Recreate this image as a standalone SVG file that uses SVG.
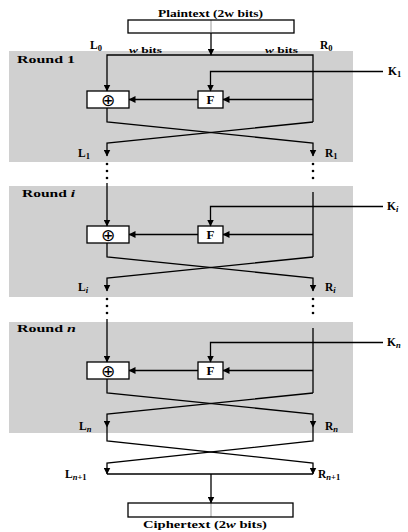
<svg xmlns="http://www.w3.org/2000/svg" width="408" height="532" viewBox="0 0 408 532">
<defs>
<style>
.ln{stroke:#000;stroke-width:1.3;fill:none}
.ar{marker-end:url(#ah)}
.dt{stroke:#000;stroke-width:0.8;stroke-dasharray:1 1;fill:none}
.bx{fill:#fff;stroke:#000;stroke-width:1.3}
.rd{fill:#d0d0d0}
.t{font-family:"Liberation Serif","Times New Roman",serif;font-weight:bold;fill:#000}
.s{font-size:8.5px}
.it{font-style:italic}
.op{font-family:"DejaVu Sans",sans-serif;font-size:17px;fill:#000}
</style>
<marker id="ah" markerUnits="userSpaceOnUse" viewBox="0 0 7 7" markerWidth="7" markerHeight="7" refX="6.5" refY="3.5" orient="auto">
<path d="M0,0 L7,3.5 L0,7 Z" fill="#000"/>
</marker>
</defs>
<rect class="rd" x="9" y="51" width="344" height="111"/>
<rect class="rd" x="9" y="186" width="344" height="111"/>
<rect class="rd" x="9" y="322" width="344" height="111"/>
<g id="plaintext">
<rect class="bx" x="128" y="20" width="166" height="13"/>
<line class="dt" x1="211" y1="20.5" x2="211" y2="32.5"/>
<text class="t" x="158" y="17" font-size="9.5" textLength="105" lengthAdjust="spacingAndGlyphs">Plaintext (2w bits)</text>
</g>
<g id="ciphertext">
<rect class="bx" x="128" y="503" width="165" height="14"/>
<line class="dt" x1="211" y1="503.5" x2="211" y2="516.5"/>
<text class="t" x="143" y="528" font-size="10.5" textLength="124" lengthAdjust="spacingAndGlyphs">Ciphertext (2<tspan class="it">w</tspan> bits)</text>
</g>
<g id="round1">
<text class="t" x="17" y="63" font-size="10.5" textLength="58" lengthAdjust="spacingAndGlyphs">Round 1</text>
<g id="xor1"><rect class="bx" x="87" y="91" width="42" height="17"/><text class="op" x="108" y="105.5" text-anchor="middle">⊕</text></g>
<g id="f1"><rect class="bx" x="198" y="91" width="25" height="17"/><text class="t" x="210.5" y="104" font-size="13" text-anchor="middle">F</text></g>
</g>
<g id="roundi">
<text class="t" x="22" y="197" font-size="10.5" textLength="53" lengthAdjust="spacingAndGlyphs">Round <tspan class="it">i</tspan></text>
<g id="xori"><rect class="bx" x="87" y="226" width="42" height="17"/><text class="op" x="108" y="240.5" text-anchor="middle">⊕</text></g>
<g id="fi"><rect class="bx" x="198" y="226" width="25" height="17"/><text class="t" x="210.5" y="239" font-size="13" text-anchor="middle">F</text></g>
</g>
<g id="roundn">
<text class="t" x="17" y="332" font-size="10.5" textLength="59" lengthAdjust="spacingAndGlyphs">Round <tspan class="it">n</tspan></text>
<g id="xorn"><rect class="bx" x="87" y="362" width="42" height="17"/><text class="op" x="108" y="376.5" text-anchor="middle">⊕</text></g>
<g id="fn"><rect class="bx" x="198" y="362" width="25" height="17"/><text class="t" x="210.5" y="375" font-size="13" text-anchor="middle">F</text></g>
</g>
<g id="labels">
<text class="t" x="90" y="49" font-size="11.5">L<tspan class="s" dy="2">0</tspan></text>
<text class="t" x="320" y="49" font-size="11.5">R<tspan class="s" dy="2">0</tspan></text>
<text class="t" x="129" y="53" font-size="8" textLength="33" lengthAdjust="spacingAndGlyphs"><tspan class="it">w</tspan> bits</text>
<text class="t" x="265" y="53" font-size="8" textLength="33" lengthAdjust="spacingAndGlyphs"><tspan class="it">w</tspan> bits</text>
<text class="t" x="388" y="75" font-size="11.5">K<tspan class="s" dy="2">1</tspan></text>
<text class="t" x="387" y="210" font-size="11.5">K<tspan class="s it" dy="2">i</tspan></text>
<text class="t" x="387" y="346" font-size="11.5">K<tspan class="s it" dy="2">n</tspan></text>
<text class="t" x="78" y="157" font-size="11.5">L<tspan class="s" dy="2">1</tspan></text>
<text class="t" x="325" y="157" font-size="11.5">R<tspan class="s" dy="2">1</tspan></text>
<text class="t" x="78" y="291" font-size="11.5">L<tspan class="s it" dy="2">i</tspan></text>
<text class="t" x="325" y="291" font-size="11.5">R<tspan class="s it" dy="2">i</tspan></text>
<text class="t" x="79" y="430" font-size="11.5">L<tspan class="s it" dy="2">n</tspan></text>
<text class="t" x="325" y="430" font-size="11.5">R<tspan class="s it" dy="2">n</tspan></text>
<text class="t" x="65" y="478" font-size="11.5">L<tspan class="s" dy="2"><tspan class="it">n</tspan>+1</tspan></text>
<text class="t" x="318" y="478" font-size="11.5">R<tspan class="s" dy="2"><tspan class="it">n</tspan>+1</tspan></text>
</g>
<g id="connectors">
<line class="ln ar" x1="211" y1="33" x2="211" y2="55"/>
<path class="ln ar" d="M313,122 V55 H107 V91"/>
<path class="ln ar" d="M383,71.5 H210.5 V91"/>
<line class="ln ar" x1="313" y1="99.5" x2="223" y2="99.5"/>
<line class="ln ar" x1="198" y1="99.5" x2="129" y2="99.5"/>
<path class="ln ar" d="M107,108 V122 L313,143 V156"/>
<path class="ln ar" d="M313,122 L107,143 V156"/>
<path class="ln ar" d="M107,183 V226"/>
<path class="ln" d="M313,192 V257"/>
<path class="ln ar" d="M383,206.5 H210.5 V226"/>
<line class="ln ar" x1="313" y1="234.5" x2="223" y2="234.5"/>
<line class="ln ar" x1="198" y1="234.5" x2="129" y2="234.5"/>
<path class="ln ar" d="M107,243 V257 L313,278 V291"/>
<path class="ln ar" d="M313,257 L107,278 V291"/>
<path class="ln ar" d="M107,319 V362"/>
<path class="ln" d="M313,328 V393"/>
<path class="ln ar" d="M383,342.5 H210.5 V362"/>
<line class="ln ar" x1="313" y1="370.5" x2="223" y2="370.5"/>
<line class="ln ar" x1="198" y1="370.5" x2="129" y2="370.5"/>
<path class="ln ar" d="M107,379 V393 L313,414 V427"/>
<path class="ln ar" d="M313,393 L107,414 V427"/>
<path class="ln ar" d="M107,427 V441 L313,463 V474"/>
<path class="ln ar" d="M313,427 V441 L107,463 V474"/>
<line class="ln" x1="107" y1="474" x2="313" y2="474"/>
<line class="ln ar" x1="211" y1="474" x2="211" y2="503"/>
<g fill="#000">
<circle cx="107" cy="164" r="1.3"/><circle cx="107" cy="171" r="1.3"/><circle cx="107" cy="178" r="1.3"/>
<circle cx="313" cy="164" r="1.3"/><circle cx="313" cy="171" r="1.3"/><circle cx="313" cy="178" r="1.3"/>
<circle cx="107" cy="299" r="1.3"/><circle cx="107" cy="306" r="1.3"/><circle cx="107" cy="313" r="1.3"/>
<circle cx="313" cy="299" r="1.3"/><circle cx="313" cy="306" r="1.3"/><circle cx="313" cy="313" r="1.3"/>
</g>
</g>
</svg>
